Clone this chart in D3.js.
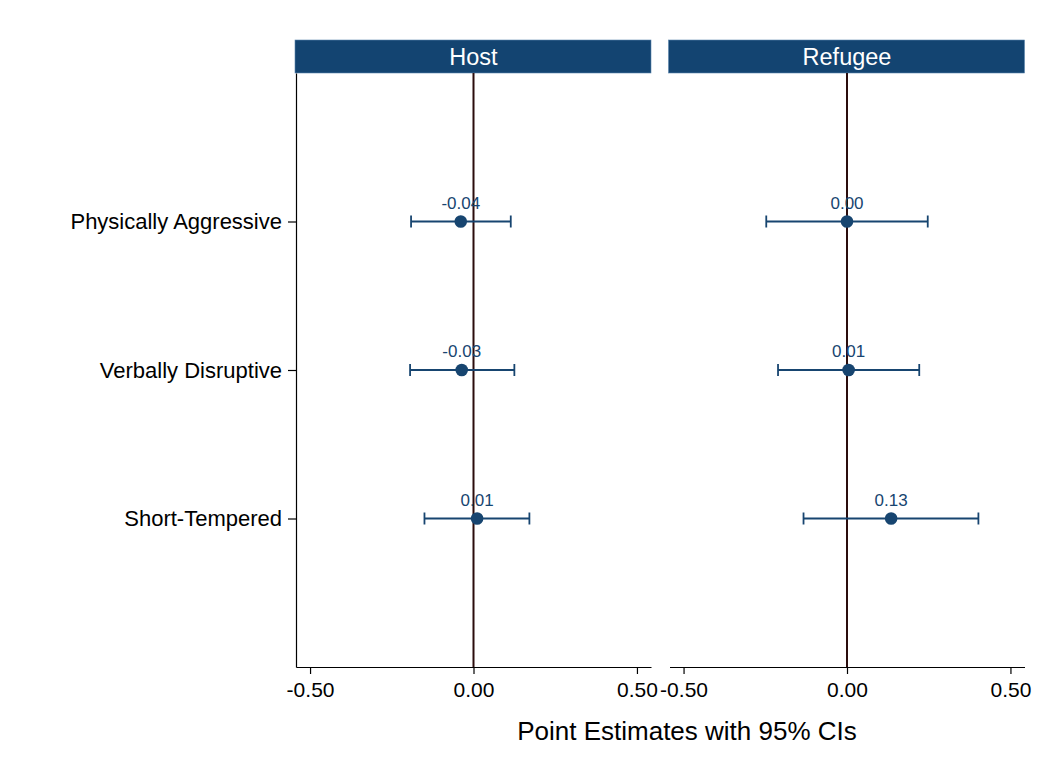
<!DOCTYPE html>
<html>
<head>
<meta charset="utf-8">
<script src="https://cdn.jsdelivr.net/npm/d3@7"></script>
<style>
  html, body { margin: 0; padding: 0; background: #fff; }
  svg { display: block; font-family: "Liberation Sans", Arial, Helvetica, sans-serif; }
</style>
</head>
<body>
<svg id="chart" width="1050" height="767"></svg>
<script>
// Outcomes (rows, top to bottom) and panels
const outcomes = ["Physically Aggressive", "Verbally Disruptive", "Short-Tempered"];
const panels = ["Host", "Refugee"];

// Point estimates, per panel, in outcome order
const hostEstimate    = [-0.039, -0.036, 0.011];
const refugeeEstimate = [0.000, 0.005, 0.135];

// 95% confidence bounds
const hostLower    = [-0.191, -0.194, -0.150];
const hostUpper    = [0.114, 0.125, 0.171];
const refugeeLower = [-0.247, -0.211, -0.133];
const refugeeUpper = [0.247, 0.221, 0.402];

// Value labels printed above each point
const hostLabels    = ["-0.04", "-0.03", "0.01"];
const refugeeLabels = ["0.00", "0.01", "0.13"];

// X-axis ticks
const xTicks = [-0.5, 0, 0.5];
const xTitle = "Point Estimates with 95% CIs";

const navy = "#174570";
const svg = d3.select("#chart");

const plotTop = 73, plotBottom = 667;
const panelX = [{ left: 296, right: 651 }, { left: 669.5, right: 1024.5 }];

const y = d3.scaleLinear().domain([0, outcomes.length + 1]).range([plotTop, plotBottom]);

const series = [
  { est: hostEstimate, lo: hostLower, hi: hostUpper, lab: hostLabels },
  { est: refugeeEstimate, lo: refugeeLower, hi: refugeeUpper, lab: refugeeLabels }
];

panels.forEach((name, p) => {
  const px = panelX[p];
  const x = d3.scaleLinear().domain([-0.543, 0.543]).range([px.left, px.right]);
  const g = svg.append("g");

  // panel header strip
  g.append("rect")
    .attr("x", px.left - 1).attr("y", 40)
    .attr("width", px.right - px.left + 1).attr("height", 33)
    .attr("fill", "#134471").attr("stroke", "#5b85ad").attr("stroke-width", 0.6);
  g.append("text")
    .attr("x", (px.left + px.right) / 2).attr("y", 64.5)
    .attr("text-anchor", "middle").attr("fill", "#fff")
    .attr("font-size", 23.5).text(name);

  // x axis
  const xAxis = d3.axisBottom(x).tickValues(xTicks)
    .tickFormat(d3.format(".2f")).tickSize(7).tickSizeOuter(0);
  const ax = g.append("g").attr("transform", `translate(0,${plotBottom})`).call(xAxis);
  ax.select(".domain").attr("stroke", "#000").attr("stroke-width", 1.2);
  ax.selectAll(".tick line").attr("stroke", "#000").attr("stroke-width", 1.2);
  ax.selectAll(".tick text").attr("font-size", 21).attr("fill", "#000")
    .attr("dy", "0.71em").attr("y", 15)
    .text(d => d3.format(".2f")(d).replace("−", "-"));

  // y axis only on the first panel
  if (p === 0) {
    const yAxis = d3.axisLeft(y).tickValues(d3.range(1, outcomes.length + 1))
      .tickFormat(i => outcomes[i - 1]).tickSize(8).tickSizeOuter(0);
    const ay = g.append("g").attr("transform", `translate(${px.left},0)`).call(yAxis);
    ay.select(".domain").attr("stroke", "#000").attr("stroke-width", 1.2);
    ay.selectAll(".tick line").attr("stroke", "#000").attr("stroke-width", 1.2);
    ay.selectAll(".tick text").attr("font-size", 22).attr("fill", "#000").attr("x", -14);
  }

  // zero reference line
  g.append("line")
    .attr("x1", x(0)).attr("x2", x(0))
    .attr("y1", plotTop).attr("y2", plotBottom)
    .attr("stroke", "#2b0d0d").attr("stroke-width", 2);

  const s = series[p];
  const rows = outcomes.map((o, i) => ({
    yPos: y(i + 1), est: s.est[i], lo: s.lo[i], hi: s.hi[i], lab: s.lab[i]
  }));

  const rg = g.selectAll(".row").data(rows).enter().append("g");
  rg.append("line")
    .attr("x1", d => x(d.lo)).attr("x2", d => x(d.hi))
    .attr("y1", d => d.yPos).attr("y2", d => d.yPos)
    .attr("stroke", navy).attr("stroke-width", 1.8);
  [ "lo", "hi" ].forEach(k => {
    rg.append("line")
      .attr("x1", d => x(d[k])).attr("x2", d => x(d[k]))
      .attr("y1", d => d.yPos - 6).attr("y2", d => d.yPos + 6)
      .attr("stroke", navy).attr("stroke-width", 1.8);
  });
  rg.append("circle")
    .attr("cx", d => x(d.est)).attr("cy", d => d.yPos).attr("r", 6.3)
    .attr("fill", navy);
  rg.append("text")
    .attr("x", d => x(d.est)).attr("y", d => d.yPos - 13)
    .attr("text-anchor", "middle").attr("fill", navy)
    .attr("font-size", 17).text(d => d.lab);
});

// shared x-axis title
svg.append("text")
  .attr("x", 687).attr("y", 740)
  .attr("text-anchor", "middle").attr("font-size", 26).attr("fill", "#000")
  .text(xTitle);
</script>
</body>
</html>
